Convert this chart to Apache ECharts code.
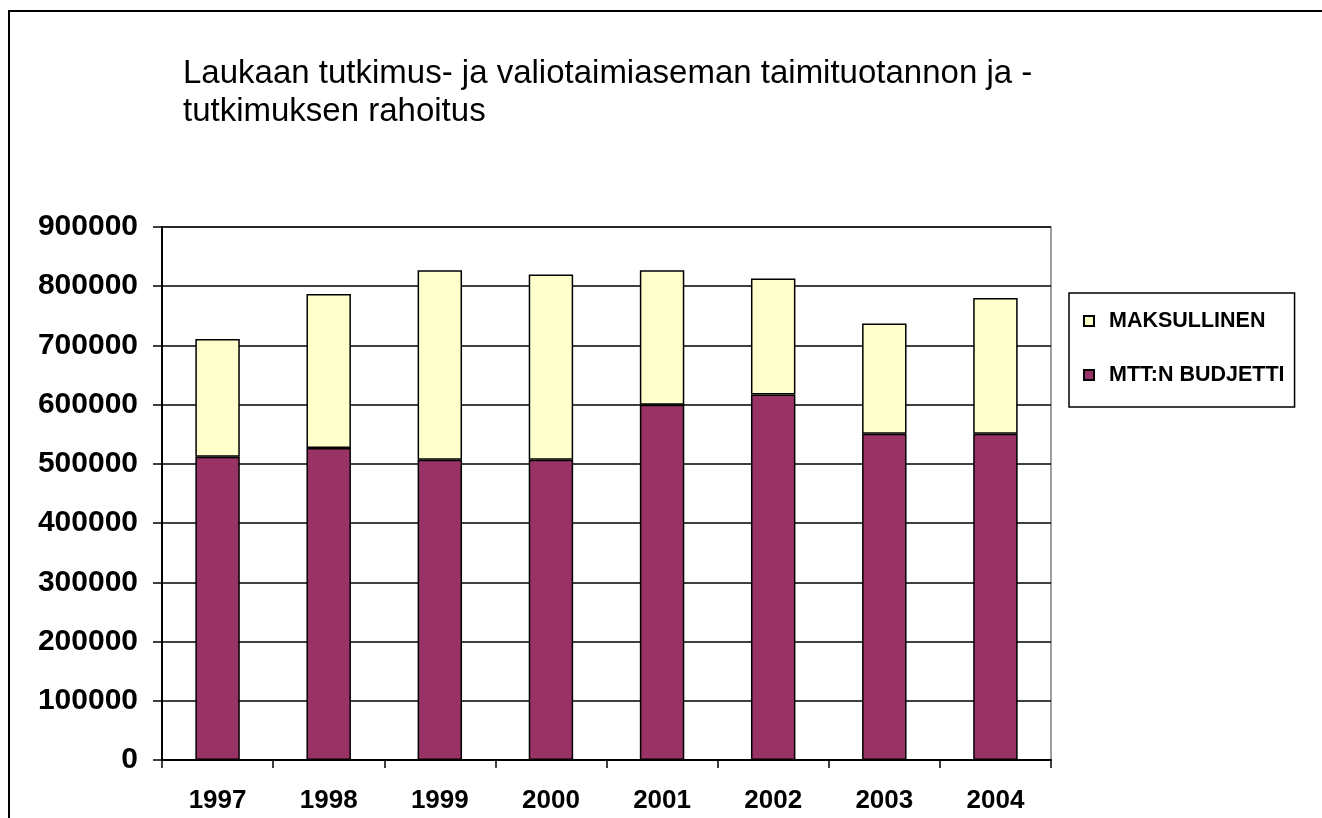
<!DOCTYPE html>
<html>
<head>
<meta charset="utf-8">
<script src="https://cdn.jsdelivr.net/npm/echarts@6/dist/echarts.min.js"></script>
<style>
html,body{margin:0;padding:0;background:#fff;}
#chart{width:1322px;height:818px;}
</style>
</head>
<body>
<div id="chart"></div>
<script>
var years = ['1997', '1998', '1999', '2000', '2001', '2002', '2003', '2004'];
var budjetti = [512000, 527000, 507000, 507000, 600000, 617000, 551000, 551000];
var maksullinen = [199000, 260000, 320000, 313000, 227000, 196000, 186000, 229000];
var titleLines = ['Laukaan tutkimus- ja valiotaimiaseman taimituotannon ja -', 'tutkimuksen rahoitus'];
var seriesNames = ['MTT:N BUDJETTI', 'MAKSULLINEN'];

var FONT = '"Liberation Sans", Arial, sans-serif';
var chart = echarts.init(document.getElementById('chart'));
chart.setOption({
  animation: false,
  backgroundColor: '#ffffff',
  title: {
    text: titleLines.join('\n'),
    left: 178,
    top: 50,
    textStyle: { fontFamily: FONT, fontSize: 33, fontWeight: 'normal', color: '#000', lineHeight: 38 }
  },
  graphic: [{
    type: 'rect',
    shape: { x: 9, y: 11, width: 1400, height: 1000 },
    style: { fill: 'none', stroke: '#000', lineWidth: 2 },
    silent: true
  }],
  legend: {
    orient: 'vertical',
    left: 1069,
    top: 293,
    data: [seriesNames[1], seriesNames[0]],
    icon: 'rect',
    itemWidth: 10,
    itemHeight: 10,
    itemGap: 32,
    padding: [17, 10, 21, 14],
    borderColor: '#000',
    borderWidth: 1.5,
    textStyle: { fontFamily: FONT, fontSize: 21.5, fontWeight: 'bold', color: '#000', padding: [0, 0, 0, 10] }
  },
  grid: {
    left: 162, top: 227, right: 271, bottom: 58,
    show: true, borderColor: '#808080', borderWidth: 1.5, backgroundColor: 'transparent'
  },
  xAxis: {
    type: 'category',
    data: years,
    axisLine: { lineStyle: { color: '#000', width: 2 } },
    axisTick: { show: true, length: 8, lineStyle: { color: '#000', width: 1.5 } },
    axisLabel: { margin: 28, fontFamily: FONT, fontSize: 26, fontWeight: 'bold', color: '#000' },
    splitLine: { show: false }
  },
  yAxis: {
    type: 'value',
    min: 0, max: 900000, interval: 100000,
    axisLine: { show: true, lineStyle: { color: '#000', width: 2 } },
    axisTick: { show: true, length: 9, lineStyle: { color: '#000', width: 1.5 } },
    axisLabel: { margin: 24, fontFamily: FONT, fontSize: 30, fontWeight: 'bold', color: '#000',
      formatter: function (v) { return String(v); } },
    splitLine: { show: true, lineStyle: { color: '#000', width: 1.5 } }
  },
  series: [{
    name: seriesNames[0],
    type: 'bar',
    stack: 'total',
    barWidth: '40%',
    data: budjetti,
    itemStyle: { color: '#993366', borderColor: '#000', borderWidth: 1.5 }
  }, {
    name: seriesNames[1],
    type: 'bar',
    stack: 'total',
    barWidth: '40%',
    data: maksullinen,
    itemStyle: { color: '#FFFFCC', borderColor: '#000', borderWidth: 1.5 }
  }]
});
</script>
</body>
</html>
